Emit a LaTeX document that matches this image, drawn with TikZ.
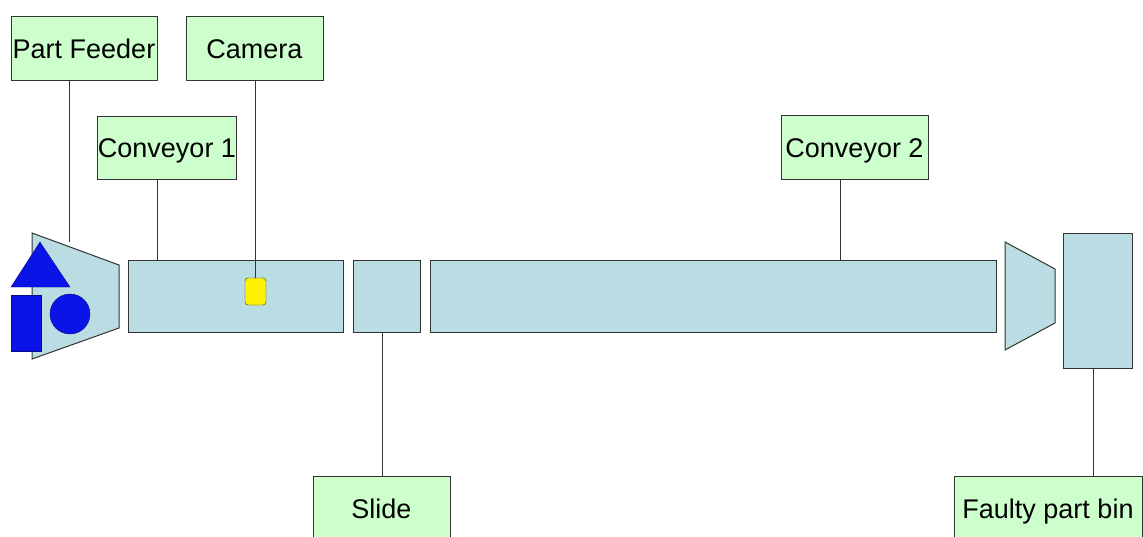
\documentclass[tikz,border=0pt]{standalone}
\usepackage{fontspec}
\setmainfont{Liberation Sans}
\usetikzlibrary{calc}

\definecolor{lblgreen}{HTML}{CCFFCC}
\definecolor{beltblue}{HTML}{B9DDE2}
\definecolor{partblue}{HTML}{0A14E6}
\definecolor{edgegray}{HTML}{333333}

\tikzset{
    lbl/.style = {draw = edgegray, fill = lblgreen, line width = 1pt, inner sep = 0pt,
                  minimum height = 64pt, text height = 21pt, text depth = 1pt,
                  font = \fontsize{27}{31}\selectfont},
    belt/.style = {draw = edgegray, fill = beltblue, line width = 1pt, inner sep = 0pt,
                   minimum height = 72pt},
    link/.style = {draw = edgegray, line width = 1pt},
}

\begin{document}
\begin{tikzpicture}[x = 1pt, y = -1pt]
            \useasboundingbox (0,0) rectangle (1143,536);

            % labels
            \node[lbl, minimum width = 146pt] (feederlbl) at (84,48) {Part Feeder};
            \node[lbl, minimum width = 137pt] (camlbl) at (254.5,48) {Camera};
            \node[lbl, minimum width = 138pt, minimum height = 63pt] (convalbl) at (167,147.5) {Conveyor 1};
            \node[lbl, minimum width = 147pt] (convblbl) at (854.5,147) {Conveyor 2};
            \node[lbl, minimum width = 137pt] (slidelbl) at (381.5,508) {Slide};
            \node[lbl, minimum width = 188pt] (binlbl) at (1048,508) {Faulty part bin};

            % feeder
            \draw[belt] (32,233) -- (119,265) -- (119,328) -- (32,359) -- cycle;
            \coordinate (feedtop) at (69,242);
            \fill[partblue, draw = partblue!60!black] (40,242) -- (70,287) -- (11,287) -- cycle;
            \fill[partblue, draw = partblue!60!black] (11,295) rectangle (41,351);
            \fill[partblue, draw = partblue!60!black] (70,314) circle (20);

            % belts
            \node[belt, minimum width = 215pt] (conva) at (235.5,296) {};
            \node[belt, minimum width = 67pt] (slide) at (386.5,296) {};
            \node[belt, minimum width = 566pt] (convb) at (713,296) {};
            \draw[belt] (1005,242) -- (1055,269) -- (1055,323) -- (1005,350) -- cycle;
            \node[belt, minimum width = 69pt, minimum height = 135pt] (bin) at (1097.5,300.5) {};

            % camera
            \node[draw = edgegray, fill = yellow, rounded corners = 3pt, inner sep = 0pt,
                  minimum width = 21pt, minimum height = 27pt] (cam) at (255.5,291.5) {};

            % connectors
            \draw[link] (feedtop) -- (feedtop |- feederlbl.south);
            \draw[link] (camlbl.south -| cam.north) -- (cam.north);
            \coordinate (convatop) at (157,260);
            \draw[link] (convatop) -- (convatop |- convalbl.south);
            \coordinate (convbtop) at (840,260);
            \draw[link] (convbtop) -- (convbtop |- convblbl.south);
            \draw[link] (slidelbl.north -| 382,0) -- (slide.south -| 382,0);
            \coordinate (binbot) at (1093,368);
            \draw[link] (binbot) -- (binbot |- binlbl.north);
        \end{tikzpicture}
\end{document}
